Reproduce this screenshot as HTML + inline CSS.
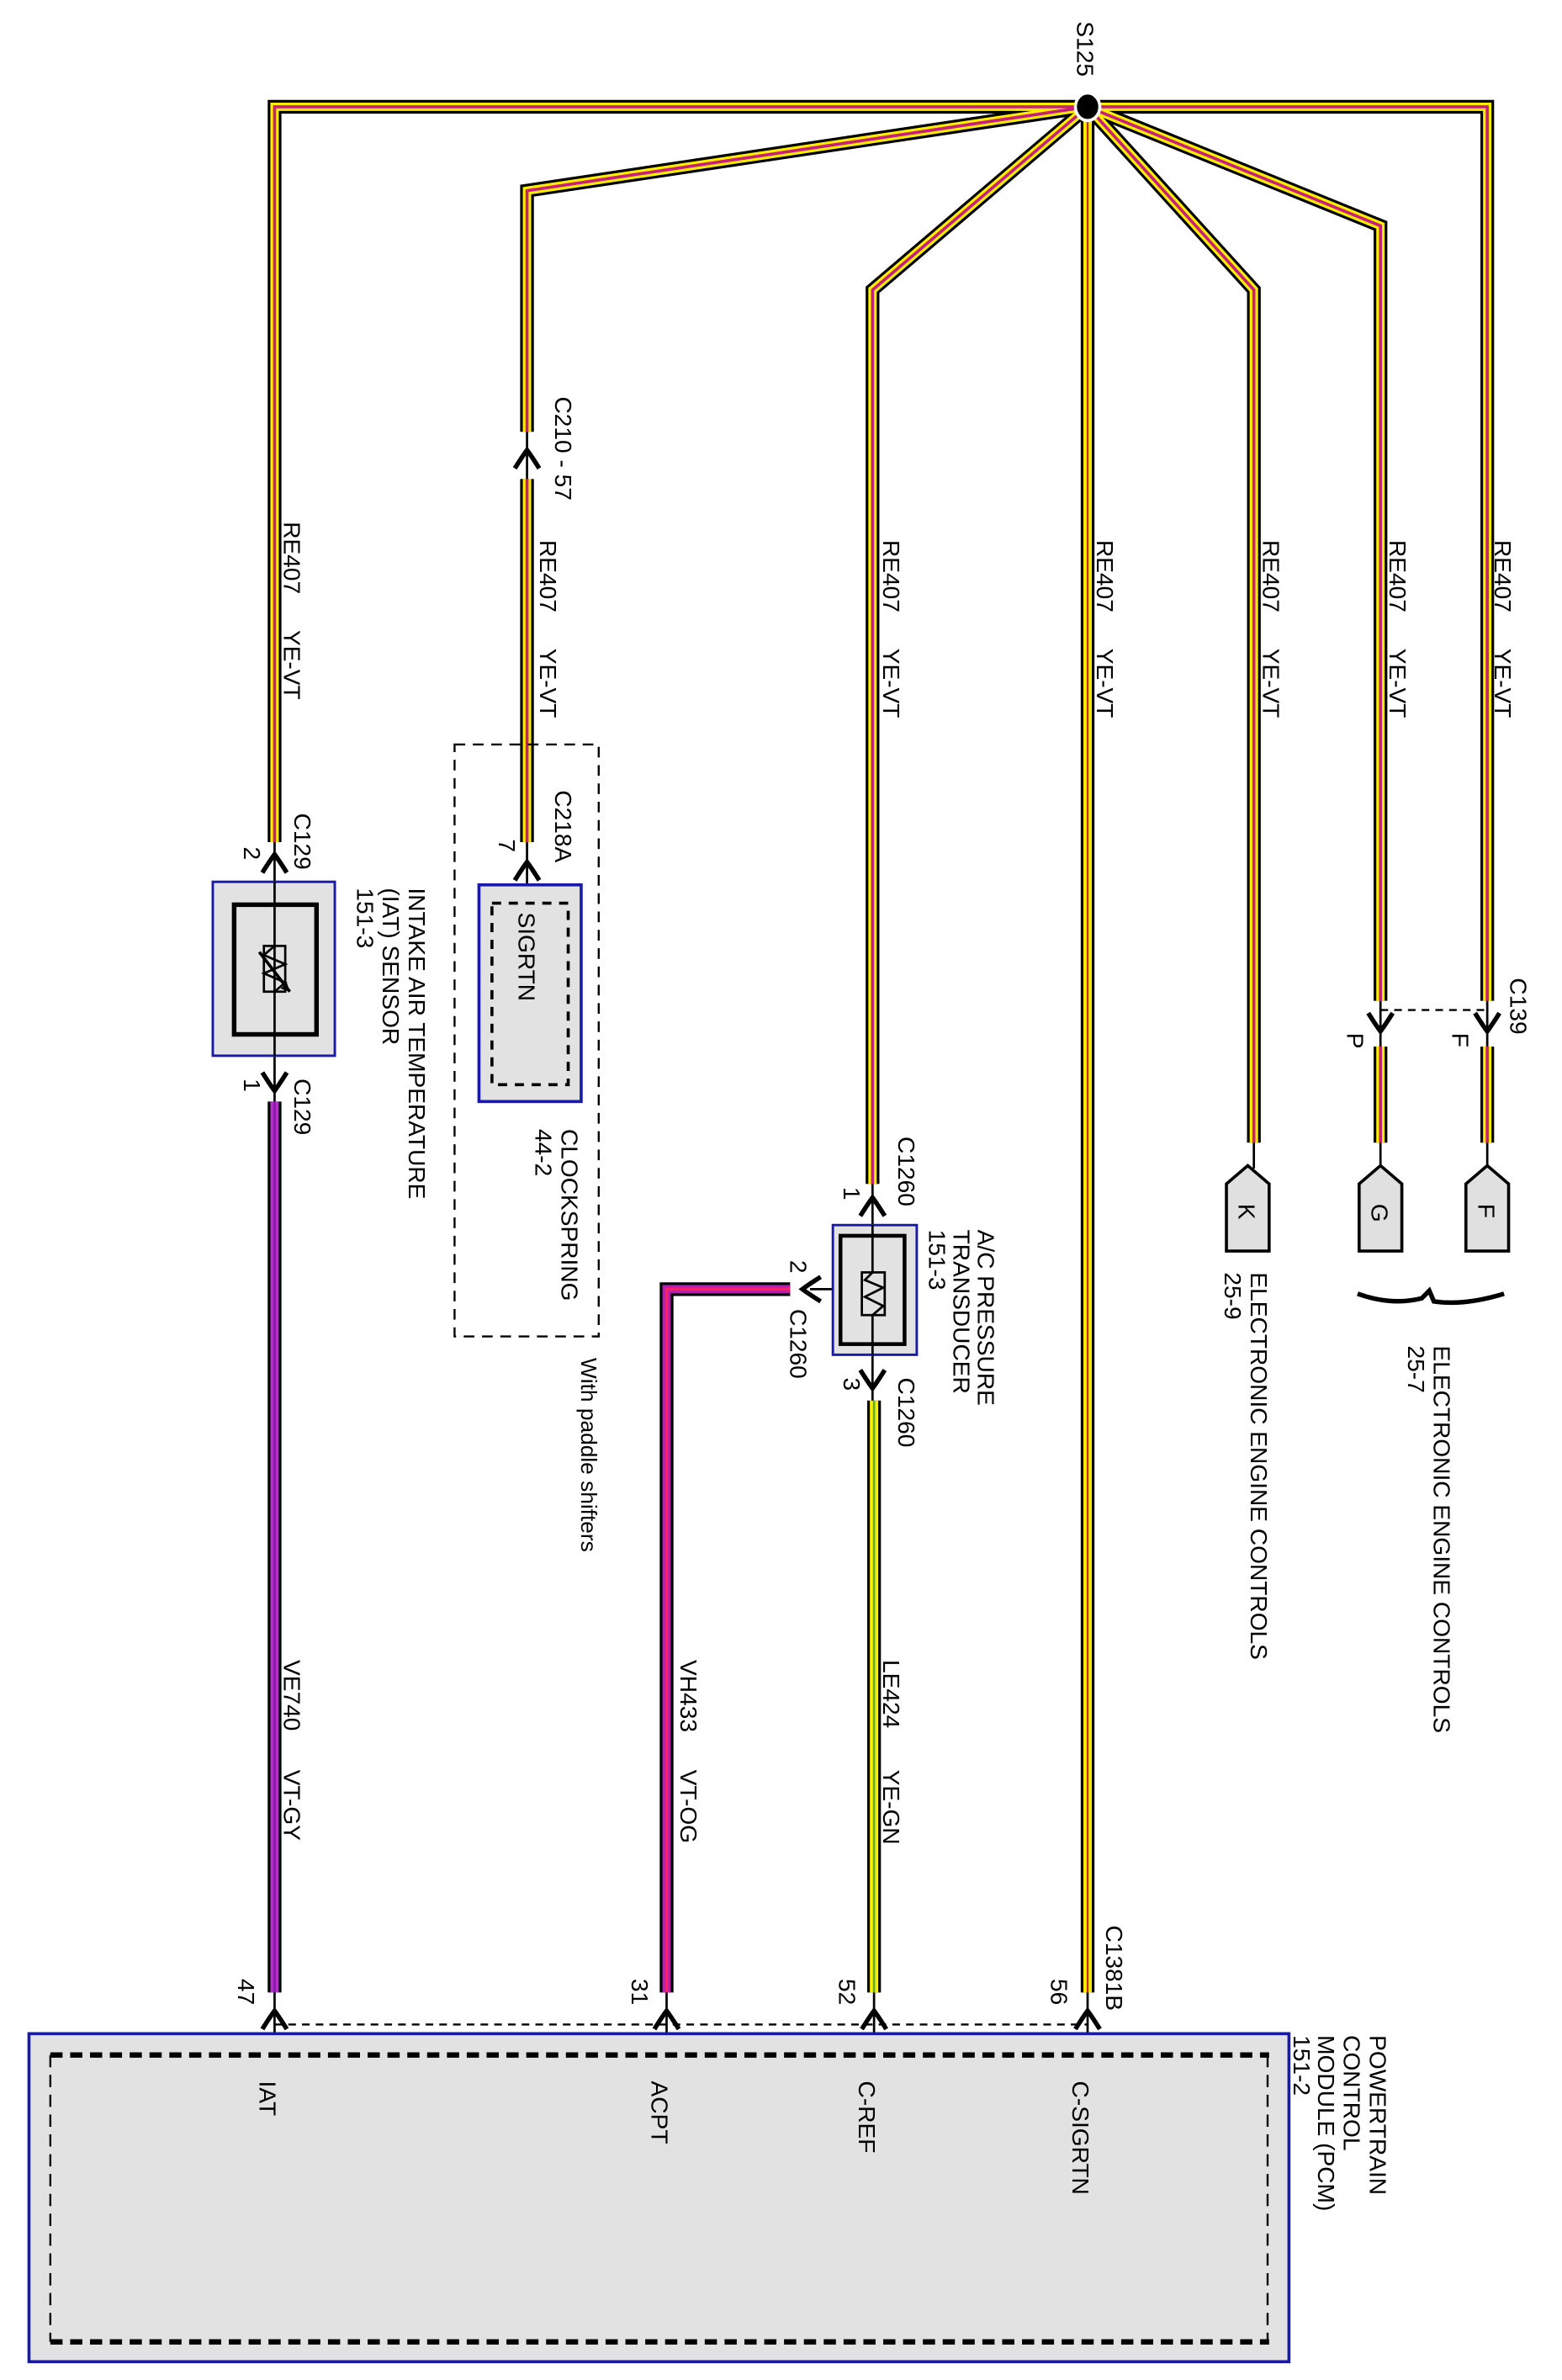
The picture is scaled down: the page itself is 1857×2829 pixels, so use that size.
<!DOCTYPE html>
<html><head><meta charset="utf-8"><style>
html,body{margin:0;padding:0;background:#fff;}
svg{display:block;}
text{font-family:"Liberation Sans",Arial,sans-serif;fill:#000;}
</style></head><body>
<svg width="1857" height="2829" viewBox="0 0 1024 1560" preserveAspectRatio="none" xmlns="http://www.w3.org/2000/svg">
<defs>
<path id="w1" d="M713,70 L180,70 L180,552"/>
<path id="w2a" d="M713,70 L345.5,125 L345.5,283"/>
<path id="w2b" d="M345.5,314 L345.5,552"/>
<path id="w3" d="M713,70 L572,190 L572,776"/>
<path id="w4" d="M713,70 L713,1306"/>
<path id="w5" d="M713,70 L822,190 L822,749"/>
<path id="w6a" d="M713,70 L905,148 L905,656"/>
<path id="w6b" d="M905,686 L905,749"/>
<path id="w7a" d="M713,70 L975,70 L975,656"/>
<path id="w7b" d="M975,686 L975,749"/>
<path id="wp" d="M180,722 L180,1306"/>
<path id="wk" d="M518,845 L437,845 L437,1306"/>
<path id="wg" d="M573,918 L573,1306"/>
<path id="up" d="M-8,7 Q-3,-1 0,-5 Q3,-1 8,7"/>
<path id="dn" d="M-8,-7 Q-3,1 0,5 Q3,1 8,-7"/>
</defs>

<g stroke="#000" stroke-width="1.5" fill="none">
<line x1="180" y1="548" x2="180" y2="722"/>
<line x1="345.5" y1="280" x2="345.5" y2="316"/>
<line x1="345.5" y1="548" x2="345.5" y2="580"/>
<line x1="572" y1="770" x2="572" y2="920"/>
<line x1="531" y1="845" x2="568" y2="845"/>
<line x1="822" y1="745" x2="822" y2="766"/>
<line x1="905" y1="650" x2="905" y2="766"/>
<line x1="975" y1="650" x2="975" y2="766"/>
<line x1="180" y1="1300" x2="180" y2="1347"/>
<line x1="437" y1="1300" x2="437" y2="1347"/>
<line x1="573" y1="1300" x2="573" y2="1347"/>
<line x1="713" y1="1300" x2="713" y2="1347"/>
</g>
<line x1="180" y1="1327" x2="713" y2="1327" stroke="#000" stroke-width="1.3" stroke-dasharray="5,4"/>
<line x1="905" y1="662" x2="975" y2="662" stroke="#000" stroke-width="1.3" stroke-dasharray="5,4"/>

<g fill="none" stroke-linejoin="miter">
<g stroke="#000" stroke-width="9">
<use href="#w1"/><use href="#w2a"/><use href="#w2b"/><use href="#w3"/><use href="#w4"/><use href="#w5"/><use href="#w6a"/><use href="#w6b"/><use href="#w7a"/><use href="#w7b"/>
</g>
<g stroke="#ffee00" stroke-width="5.5">
<use href="#w1"/><use href="#w2a"/><use href="#w2b"/><use href="#w3"/><use href="#w4"/><use href="#w5"/><use href="#w6a"/><use href="#w6b"/><use href="#w7a"/><use href="#w7b"/>
</g>
<g stroke="#c8207a" stroke-width="2">
<use href="#w1"/><use href="#w2a"/><use href="#w2b"/><use href="#w3"/><use href="#w5"/><use href="#w6a"/><use href="#w6b"/><use href="#w7a"/><use href="#w7b"/>
</g>
<g stroke="#c83030" stroke-width="1.3"><use href="#w4"/></g>
<use href="#wp" stroke="#000" stroke-width="9"/>
<use href="#wp" stroke="#b030c8" stroke-width="5.5"/>
<use href="#wp" stroke="#8a1aa8" stroke-width="1.5"/>
<use href="#wk" stroke="#000" stroke-width="9"/>
<use href="#wk" stroke="#b020b0" stroke-width="5.5"/>
<use href="#wk" stroke="#ff2060" stroke-width="2"/>
<use href="#wg" stroke="#000" stroke-width="9"/>
<use href="#wg" stroke="#ffee00" stroke-width="5.5"/>
<use href="#wg" stroke="#60b030" stroke-width="1.5"/>
</g>

<ellipse cx="713" cy="70" rx="8" ry="9" fill="#000" stroke="#fff" stroke-width="2"/>

<g fill="none" stroke="#000" stroke-width="3">
<use href="#up" x="180" y="565"/>
<use href="#up" x="345.5" y="300"/>
<use href="#up" x="345.5" y="570"/>
<use href="#up" x="572" y="790"/>
<use href="#dn" x="180" y="710"/>
<use href="#dn" x="572" y="905"/>
<use href="#dn" x="905" y="671"/>
<use href="#dn" x="975" y="671"/>
<use href="#up" x="180" y="1323"/>
<use href="#up" x="437" y="1323"/>
<use href="#up" x="573" y="1323"/>
<use href="#up" x="713" y="1323"/>
<path d="M538,837 Q530,842 526,845 Q530,848 538,853"/>
</g>

<rect x="139.5" y="578" width="80" height="114" fill="#e2e2e2" stroke="#1a1aa8" stroke-width="1.6"/>
<rect x="153.5" y="593" width="54" height="85" fill="none" stroke="#000" stroke-width="3"/>
<line x1="180" y1="578" x2="180" y2="692" stroke="#000" stroke-width="1.5"/>
<rect x="173" y="620" width="14" height="30" fill="none" stroke="#000" stroke-width="1.5"/>
<path d="M180,620 L173,626 L187,632 L173,638 L187,644 L180,650" fill="none" stroke="#000" stroke-width="1.5"/>
<path d="M170,624 L190,650" stroke="#000" stroke-width="2"/>
<path d="M190,650 L184,648 L188,644 Z" fill="#000"/>

<rect x="298" y="488" width="94.5" height="388" fill="none" stroke="#000" stroke-width="1.3" stroke-dasharray="7,5"/>
<rect x="314" y="580" width="67" height="142" fill="#e2e2e2" stroke="#1a1aa8" stroke-width="2"/>
<rect x="322.5" y="592" width="50" height="119" fill="none" stroke="#000" stroke-width="2" stroke-dasharray="6,5"/>

<rect x="546" y="803" width="55" height="85" fill="#e2e2e2" stroke="#1a1aa8" stroke-width="1.6"/>
<rect x="551" y="810" width="42" height="71" fill="none" stroke="#000" stroke-width="2.5"/>
<line x1="572" y1="803" x2="572" y2="888" stroke="#000" stroke-width="1.5"/>
<rect x="565" y="834" width="15" height="28" fill="#e2e2e2" stroke="#000" stroke-width="1.5"/>
<path d="M572,834 L567,839 L579,844 L567,850 L579,856 L572,862" fill="none" stroke="#000" stroke-width="1.5"/>

<g fill="#e0e0e0" stroke="#000" stroke-width="2">
<path d="M804,776 L818,764 L832,776 L832,820 L804,820 Z"/>
<path d="M887,776 L901,764 L915,776 L915,820 L887,820 Z" transform="translate(4,0)"/>
<path d="M956,776 L970,764 L984,776 L984,820 L956,820 Z" transform="translate(5,0)"/>
</g>
<path d="M890,848 Q912,856 932,851 L937,846 L940,853 Q960,856 986,848" fill="none" stroke="#000" stroke-width="3"/>

<rect x="19" y="1333" width="826" height="215" fill="#e2e2e2" stroke="#1a1aa8" stroke-width="2"/>
<line x1="33" y1="1347" x2="832" y2="1347" stroke="#000" stroke-width="3.5" stroke-dasharray="8,5"/>
<line x1="33" y1="1535" x2="832" y2="1535" stroke="#000" stroke-width="3.5" stroke-dasharray="8,5"/>
<line x1="33" y1="1347" x2="33" y2="1535" stroke="#000" stroke-width="1.3" stroke-dasharray="8,5"/>
<line x1="831" y1="1347" x2="831" y2="1535" stroke="#000" stroke-width="1.3" stroke-dasharray="8,5"/>

<g font-size="15.5">
<text transform="translate(706,14) rotate(90)">S125</text>

<text transform="translate(186,342) rotate(90)">RE407</text>
<text transform="translate(186,413) rotate(90)">YE-VT</text>
<text transform="translate(193,533) rotate(90)">C129</text>
<text transform="translate(160,555) rotate(90)">2</text>
<text transform="translate(160,707) rotate(90)">1</text>
<text transform="translate(193,707) rotate(90)">C129</text>
<text transform="translate(268,582) rotate(90)">INTAKE AIR TEMPERATURE</text>
<text transform="translate(251,582) rotate(90)">(IAT) SENSOR</text>
<text transform="translate(234,582) rotate(90)">151-3</text>
<text transform="translate(186,1088) rotate(90)">VE740</text>
<text transform="translate(186,1160) rotate(90)">VT-GY</text>
<text transform="translate(156,1297) rotate(90)">47</text>
<text transform="translate(170,1364) rotate(90)">IAT</text>

<text transform="translate(364,260) rotate(90)">C210 - 57</text>
<text transform="translate(354,354) rotate(90)">RE407</text>
<text transform="translate(354,425) rotate(90)">YE-VT</text>
<text transform="translate(364,518) rotate(90)">C218A</text>
<text transform="translate(327,550) rotate(90)">7</text>
<text transform="translate(340,598) rotate(90)">SIGRTN</text>
<text transform="translate(368,740) rotate(90)">CLOCKSPRING</text>
<text transform="translate(351,740) rotate(90)">44-2</text>
<text transform="translate(381,890) rotate(90)" font-size="14.5">With paddle shifters</text>

<text transform="translate(579,354) rotate(90)">RE407</text>
<text transform="translate(579,425) rotate(90)">YE-VT</text>
<text transform="translate(589,745) rotate(90)">C1260</text>
<text transform="translate(553,778) rotate(90)">1</text>
<text transform="translate(641,806) rotate(90)">A/C PRESSURE</text>
<text transform="translate(625,806) rotate(90)">TRANSDUCER</text>
<text transform="translate(609,806) rotate(90)">151-3</text>
<text transform="translate(518,826) rotate(90)">2</text>
<text transform="translate(518,858) rotate(90)">C1260</text>
<text transform="translate(553,903) rotate(90)">3</text>
<text transform="translate(589,903) rotate(90)">C1260</text>
<text transform="translate(579,1088) rotate(90)">LE424</text>
<text transform="translate(579,1160) rotate(90)">YE-GN</text>
<text transform="translate(550,1297) rotate(90)">52</text>
<text transform="translate(563,1364) rotate(90)">C-REF</text>

<text transform="translate(446,1088) rotate(90)">VH433</text>
<text transform="translate(446,1160) rotate(90)">VT-OG</text>
<text transform="translate(414,1297) rotate(90)">31</text>
<text transform="translate(427,1364) rotate(90)">ACPT</text>

<text transform="translate(719,354) rotate(90)">RE407</text>
<text transform="translate(719,425) rotate(90)">YE-VT</text>
<text transform="translate(725,1262) rotate(90)">C1381B</text>
<text transform="translate(689,1297) rotate(90)">56</text>
<text transform="translate(703,1364) rotate(90)">C-SIGRTN</text>

<text transform="translate(828,354) rotate(90)">RE407</text>
<text transform="translate(828,425) rotate(90)">YE-VT</text>
<text transform="translate(812,789) rotate(90)">K</text>
<text transform="translate(820,834) rotate(90)">ELECTRONIC ENGINE CONTROLS</text>
<text transform="translate(803,834) rotate(90)">25-9</text>

<text transform="translate(911,354) rotate(90)">RE407</text>
<text transform="translate(911,425) rotate(90)">YE-VT</text>
<text transform="translate(883,677) rotate(90)">P</text>
<text transform="translate(899,789) rotate(90)">G</text>

<text transform="translate(980,354) rotate(90)">RE407</text>
<text transform="translate(980,425) rotate(90)">YE-VT</text>
<text transform="translate(990,641) rotate(90)">C139</text>
<text transform="translate(952,677) rotate(90)">F</text>
<text transform="translate(969,789) rotate(90)">F</text>
<text transform="translate(940,882) rotate(90)">ELECTRONIC ENGINE CONTROLS</text>
<text transform="translate(923,882) rotate(90)">25-7</text>

<text transform="translate(898,1334) rotate(90)">POWERTRAIN</text>
<text transform="translate(881,1334) rotate(90)">CONTROL</text>
<text transform="translate(864,1334) rotate(90)">MODULE (PCM)</text>
<text transform="translate(848,1334) rotate(90)">151-2</text>
</g>
</svg>
</body></html>
